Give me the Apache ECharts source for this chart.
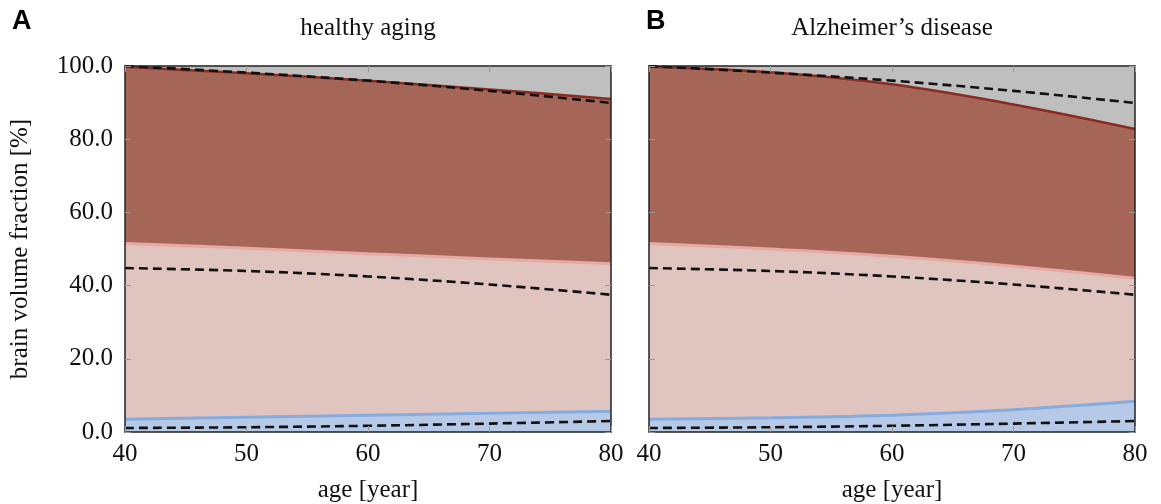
<!DOCTYPE html>
<html>
<head>
<meta charset="utf-8">
<script src="https://cdn.jsdelivr.net/npm/echarts@6/dist/echarts.min.js"></script>
<style>
html,body{margin:0;padding:0;background:#fff;}
#main{width:1161px;height:504px;}
</style>
</head>
<body>
<div id="main"></div>
<script>
var ages = [40, 50, 60, 70, 80];
var yTicks = [0, 20, 40, 60, 80, 100];

// healthy aging
var redTopA = [99.8, 98.0, 96.0, 93.6, 91.0];
var pinkTopA = [51.5, 50.2, 48.7, 47.3, 46.0];
var blueTopA = [3.5, 4.0, 4.6, 5.1, 5.7];

// Alzheimer's disease
var redTopB = [99.8, 98.3, 95.0, 89.5, 82.8];
var pinkTopB = [51.5, 50.0, 48.0, 45.3, 42.0];
var blueTopB = [3.5, 3.9, 4.6, 6.1, 8.4];

// dashed reference lines (same in both panels)
var dashTop = [100.0, 98.2, 96.0, 93.2, 89.9];
var dashMid = [44.8, 44.0, 42.5, 40.3, 37.5];
var dashLow = [1.1, 1.3, 1.7, 2.3, 3.0];

var serif = "'Liberation Serif', 'DejaVu Serif', serif";

function pts(vals) {
	var out = [];
	for (var i = 0; i < ages.length; i++) out.push([ages[i], vals[i]]);
	return out;
}

function area(idx, vals, fill, line, lw) {
	return {
		type: 'line', xAxisIndex: idx * 2, yAxisIndex: idx * 2,
		data: pts(vals), smooth: 0.35, symbol: 'none', silent: true,
		lineStyle: { color: line, width: lw },
		areaStyle: { color: fill, opacity: 1 }
	};
}

function dashed(idx, vals) {
	return {
		type: 'line', xAxisIndex: idx * 2, yAxisIndex: idx * 2, z: 4,
		data: pts(vals), smooth: 0.35, symbol: 'none', silent: true,
		lineStyle: { color: '#111', width: 2.6, type: [9, 5] }
	};
}

function xAx(grid, bottom) {
	return {
		type: 'value', gridIndex: grid, min: 40, max: 80, interval: 10, z: 6,
		position: bottom ? 'bottom' : 'top',
		name: bottom ? 'age [year]' : '', nameLocation: 'middle', nameGap: 46,
		nameTextStyle: { fontFamily: serif, fontSize: 25, color: '#111' },
		axisLine: { show: true, onZero: false, lineStyle: { color: '#222', width: 1.5 } },
		axisTick: { show: true, inside: true, length: 6, lineStyle: { color: '#999' } },
		axisLabel: { show: bottom, margin: 10, fontFamily: serif, fontSize: 25, color: '#111' },
		splitLine: { show: false }
	};
}

function yAx(grid, left, labels) {
	return {
		type: 'value', gridIndex: grid, min: 0, max: 100, interval: 20, z: 6,
		position: left ? 'left' : 'right',
		name: labels ? 'brain volume fraction [%]' : '', nameLocation: 'middle', nameGap: 92,
		nameTextStyle: { fontFamily: serif, fontSize: 25, color: '#111' },
		axisLine: { show: true, onZero: false, lineStyle: { color: '#222', width: 1.5 } },
		axisTick: { show: true, inside: true, length: 6, lineStyle: { color: '#999' } },
		axisLabel: {
			show: labels, margin: 12, fontFamily: serif, fontSize: 25, color: '#111',
			formatter: function(v) { return v.toFixed(1); }
		},
		splitLine: { show: false }
	};
}

var myChart = echarts.init(document.getElementById('main'));
var option = {
	animation: false,
	backgroundColor: '#fff',
	grid: [
		{ left: 125, top: 66, width: 486, height: 366, show: true, backgroundColor: '#bfbfbf', borderWidth: 0, containLabel: false, outerBoundsMode: 'none' },
		{ left: 649, top: 66, width: 486, height: 366, show: true, backgroundColor: '#bfbfbf', borderWidth: 0, containLabel: false, outerBoundsMode: 'none' }
	],
	xAxis: [xAx(0, true), xAx(0, false), xAx(1, true), xAx(1, false)],
	yAxis: [yAx(0, true, true), yAx(0, false, false), yAx(1, true, false), yAx(1, false, false)],
	graphic: [
		{ type: 'text', left: 12, top: 8, style: { text: 'A', font: "bold 27px 'Liberation Sans', Arial, sans-serif", fill: '#000' } },
		{ type: 'text', left: 646, top: 8, style: { text: 'B', font: "bold 27px 'Liberation Sans', Arial, sans-serif", fill: '#000' } },
		{ type: 'text', x: 368, y: 28, style: { text: 'healthy aging', font: "25px " + serif, fill: '#111', align: 'center', verticalAlign: 'middle' } },
		{ type: 'text', x: 892, y: 28, style: { text: 'Alzheimer\u2019s disease', font: "25px " + serif, fill: '#111', align: 'center', verticalAlign: 'middle' } }
	],
	series: [
		area(0, redTopA, '#a56657', '#8a2b22', 2.5),
		area(0, pinkTopA, '#e0c4c0', '#e6aaa4', 3),
		area(0, blueTopA, '#b6c9e6', '#86acdf', 3),
		dashed(0, dashTop), dashed(0, dashMid), dashed(0, dashLow),
		area(1, redTopB, '#a56657', '#8a2b22', 2.5),
		area(1, pinkTopB, '#e0c4c0', '#e6aaa4', 3),
		area(1, blueTopB, '#b6c9e6', '#86acdf', 3),
		dashed(1, dashTop), dashed(1, dashMid), dashed(1, dashLow)
	]
};
myChart.setOption(option);
</script>
</body>
</html>
